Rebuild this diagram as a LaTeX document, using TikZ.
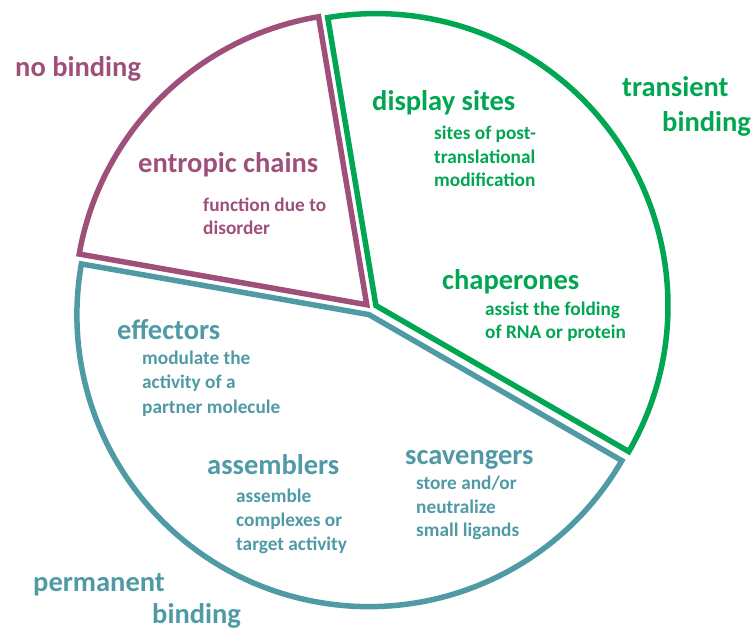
\documentclass[tikz,border=0pt]{standalone}
\usepackage{fontspec}
\setmainfont{Carlito}
\usetikzlibrary{calc}
\definecolor{pgreen}{RGB}{0,166,81}
\definecolor{ppurple}{RGB}{158,80,122}
\definecolor{pteal}{RGB}{79,154,164}
\tikzset{
  sector/.style={line width=5.5pt, line join=miter},
  head/.style={anchor=base west, inner sep=0pt, font=\fontsize{28.5}{34}\selectfont\bfseries},
  desc/.style={anchor=base west, inner sep=0pt, font=\fontsize{19.3}{23}\selectfont\bfseries},
}
\begin{document}
\begin{tikzpicture}[x=1pt,y=1pt]
\useasboundingbox (0,0) rectangle (755,631);
\def\R{292}
% centres (y measured upward: 631 - pixel row)
\coordinate (base) at (371,322);
\coordinate (cp) at ($(base)+(134.75:6)$);
\coordinate (cg) at ($(base)+(34.75:6)$);
\coordinate (ct) at ($(base)+(250:6)$);
% sectors
\draw[sector, ppurple] (cp) -- ++(99.5:\R) arc[start angle=99.5, end angle=170, radius=\R] -- cycle;
\draw[sector, pgreen] (cg) -- ++(-30:\R) arc[start angle=-30, end angle=99.5, radius=\R] -- cycle;
\draw[sector, pteal] (ct) -- ++(170:\R) arc[start angle=170, end angle=330, radius=\R] -- cycle;
% outer labels
\node[head, ppurple] (nob) at (15,554) {no binding};
\node[head, pgreen] (tr1) at (622,534) {transient};
\node[head, pgreen] (tr2) at (662,499) {binding};
\node[head, pteal] (pe1) at (33,39) {permanent};
\node[head, pteal] (pe2) at (152,7.5) {binding};
% display sites
\node[head, pgreen] (ds) at (372,520) {display sites};
\node[desc, pgreen] (ds1) at (434,491) {sites of post-};
\node[desc, pgreen] (ds2) at (434,467.5) {translational};
\node[desc, pgreen] (ds3) at (434,444) {modification};
% entropic chains
\node[head, ppurple] (ec) at (138,458) {entropic chains};
\node[desc, ppurple] (ec1) at (203,419) {function due to};
\node[desc, ppurple] (ec2) at (203,396) {disorder};
% chaperones
\node[head, pgreen] (ch) at (442,341) {chaperones};
\node[desc, pgreen] (ch1) at (485,315) {assist the folding};
\node[desc, pgreen] (ch2) at (485,292) {of RNA or protein};
% effectors
\node[head, pteal] (ef) at (117,291) {effectors};
\node[desc, pteal] (ef1) at (142,266) {modulate the};
\node[desc, pteal] (ef2) at (142,242) {activity of a};
\node[desc, pteal] (ef3) at (142,217) {partner molecule};
% scavengers
\node[head, pteal] (sc) at (405,166) {scavengers};
\node[desc, pteal] (sc1) at (416,141) {store and/or};
\node[desc, pteal] (sc2) at (416,117) {neutralize};
\node[desc, pteal] (sc3) at (416,94) {small ligands};
% assemblers
\node[head, pteal] (as) at (207,156) {assemblers};
\node[desc, pteal] (as1) at (236,128) {assemble};
\node[desc, pteal] (as2) at (236,104) {complexes or};
\node[desc, pteal] (as3) at (236,80) {target activity};
\end{tikzpicture}
\end{document}
